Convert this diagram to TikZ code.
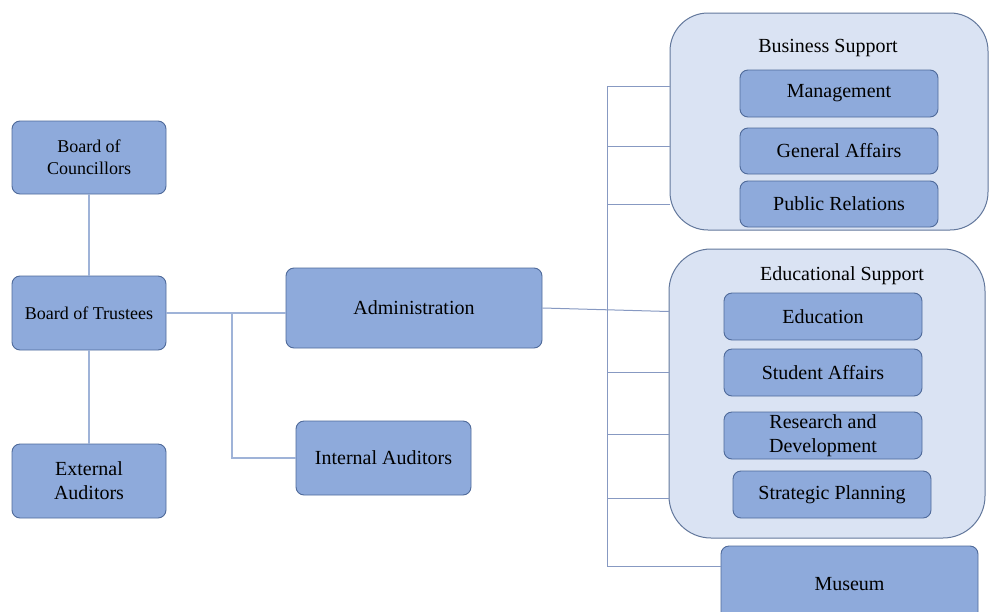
\documentclass[tikz,border=0pt]{standalone}
\usepackage{fontspec}
\setmainfont{Liberation Serif}
\definecolor{unitfill}{HTML}{8EAADB}
\definecolor{unitline}{HTML}{4F6A9A}
\definecolor{groupfill}{HTML}{DAE3F3}
\definecolor{groupline}{HTML}{63789C}
\definecolor{linkline}{HTML}{9FB3D8}
\definecolor{busline}{HTML}{8799C2}
\tikzset{
  unit/.style={draw=unitline, line width=0.9pt, fill=unitfill, rounded corners=8pt,
    inner sep=0pt, align=center, font=\fontsize{20}{24}\selectfont},
  smallunit/.style={unit, font=\fontsize{18}{22}\selectfont},
  group/.style={draw=groupline, line width=1pt, fill=groupfill, rounded corners=38pt, inner sep=0pt},
  title/.style={inner sep=0pt, font=\fontsize{20}{24}\selectfont},
  link/.style={draw=linkline, line width=1.1pt},
  bus/.style={draw=busline, line width=1pt},
}
\begin{document}
\begin{tikzpicture}[x=1pt, y=-1pt]
\clip (0,0) rectangle (991,611);
\fill[white] (0,0) rectangle (991,611);

% governance column
\node[smallunit, minimum width=154pt, minimum height=73pt] (bc) at (89,157.5) {Board of\\Councillors};
\node[smallunit, minimum width=154pt, minimum height=74pt] (bt) at (89,313) {Board of Trustees};
\node[unit, minimum width=154pt, minimum height=74pt] (ea) at (89,481) {External\\Auditors};

% executive level
\node[unit, minimum width=256pt, minimum height=80pt] (adm) at (414,308) {Administration};
\node[unit, minimum width=175pt, minimum height=74pt] (ia) at (383.5,458) {Internal Auditors};

% business support group
\node[group, minimum width=318pt, minimum height=217pt] (bs) at (829,121.5) {};
\node[title] (bstitle) at (828,48) {Business Support};
\node[unit, minimum width=198pt, minimum height=47pt] (mgmt) at (839,93.5) {Management};
\node[unit, minimum width=198pt, minimum height=46pt] (ga) at (839,151) {General Affairs};
\node[unit, minimum width=198pt, minimum height=46pt] (pr) at (839,204) {Public Relations};

% educational support group
\node[group, rounded corners=42pt, minimum width=316pt, minimum height=289pt] (es) at (827,393.5) {};
\node[title] (estitle) at (842,276) {Educational Support};
\node[unit, minimum width=198pt, minimum height=47pt] (edu) at (823,316.5) {Education};
\node[unit, minimum width=198pt, minimum height=47pt] (sa) at (823,372.5) {Student Affairs};
\node[unit, minimum width=198pt, minimum height=47pt] (rd) at (823,435.5) {Research and\\Development};
\node[unit, minimum width=198pt, minimum height=47pt] (sp) at (832,494.5) {Strategic Planning};

\node[unit, minimum width=257pt, minimum height=76pt] (mus) at (849.5,584) {Museum};

% governance links
\draw[link] (bc.south) -- (bt.north);
\draw[link] (bt.south) -- (ea.north);
\draw[link] (bt.east) -- (bt.east -| adm.west);
\coordinate (split) at (232,313);
\draw[link] (split) |- (ia.west);

% distribution bus to the departments
\coordinate (busTop) at (607,86);
\coordinate (busBot) at (607,566);
\draw[bus] (busTop) -- (busBot);
\coordinate (admEnd) at (669,311.5);
\draw[bus] (adm.east) -- (admEnd);
\foreach \yy/\tgt in {86/bs, 146/bs, 204/bs, 372/es, 434/es, 498/es, 566/mus}{
  \coordinate (tap) at (607,\yy);
  \draw[bus] (tap) -- (tap -| \tgt.west);
}
\end{tikzpicture}
\end{document}
